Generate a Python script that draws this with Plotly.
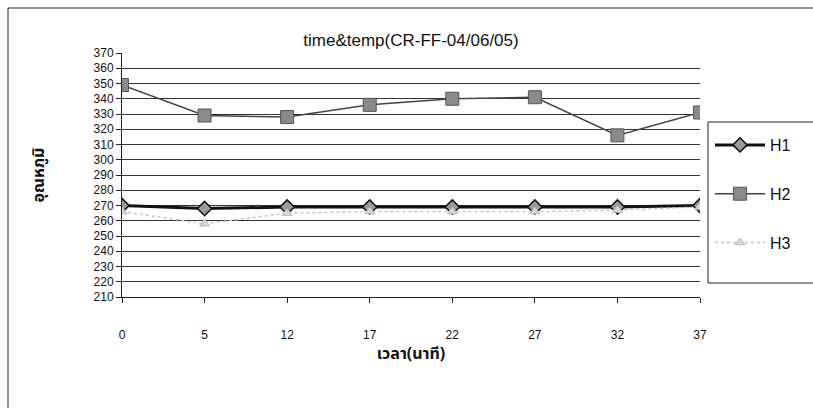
import plotly.graph_objects as go

categories = ["0", "5", "12", "17", "22", "27", "32", "37"]
h1 = [270, 268, 269, 269, 269, 269, 269, 270]
h2 = [349, 329, 328, 336, 340, 341, 316, 331]
h3 = [266, 258, 265, 266, 266, 266, 267, 269]
y_ticks = list(range(210, 371, 10))

W, H = 813, 408
L, R, T, B = 122, 700, 53, 297  # plot area in px

def px_x(p):
    return (p - L) / (R - L)

def px_y(p):
    return (B - p) / (B - T)

xs = list(range(len(categories)))
FONT = "Liberation Sans, Arial, sans-serif"
THAI = "Noto Sans Thai, Tahoma, Loma, Garuda, DejaVu Sans, sans-serif"

fig = go.Figure()
fig.add_trace(go.Scatter(
    x=xs, y=h1, name="H1", mode="lines+markers", legendgroup="a",
    line=dict(color="#111111", width=3),
    marker=dict(symbol="diamond", size=11, color="#9a9a9a",
                line=dict(color="#111111", width=1.5)),
))
fig.add_trace(go.Scatter(
    x=xs, y=h2, name="H2", mode="lines+markers", legendgroup="b",
    line=dict(color="#444444", width=1.5),
    marker=dict(symbol="square", size=13, color="#8a8a8a",
                line=dict(color="#555555", width=1)),
))
fig.add_trace(go.Scatter(
    x=xs, y=h3, name="H3", mode="lines+markers", legendgroup="c",
    line=dict(color="#c4c4c4", width=1.5, dash="dot"),
    marker=dict(symbol="triangle-up", size=9, color="#d6d6d6",
                line=dict(color="#bdbdbd", width=1)),
))

line_style = dict(color="#222222", width=1)
fig.update_layout(
    width=W, height=H,
    margin=dict(l=L, r=W - R, t=T, b=H - B, pad=0, autoexpand=False),
    paper_bgcolor="white", plot_bgcolor="white",
    font=dict(family=FONT, color="black", size=11),
    title=dict(text="time&temp(CR-FF-04/06/05)", x=px_x(411), xref="paper",
               xanchor="center", y=1 - 40 / H, yanchor="middle",
               font=dict(family=FONT, size=17, color="#111111")),
    xaxis=dict(range=[0, 7], tickmode="array", tickvals=xs, ticktext=categories,
               showgrid=False, zeroline=False, showline=True, linecolor="#222222",
               linewidth=1, ticks="outside", ticklen=5, tickcolor="#222222",
               ticklabelstandoff=22,
               tickfont=dict(size=12, family=FONT, color="#111111"),
               title=dict(text="<b>เวลา(นาที)</b>", standoff=2,
                          font=dict(size=16, family=THAI, color="#111111"))),
    yaxis=dict(range=[210, 370], tickmode="array", tickvals=y_ticks,
               showgrid=True, gridcolor="#333333", gridwidth=1, zeroline=False,
               showline=True, linecolor="#222222", linewidth=1,
               ticks="outside", ticklen=5, tickcolor="#222222",
               tickfont=dict(size=12, family=FONT, color="#111111"),
               title=dict(text="<b>อุณหภูมิ</b>", standoff=44,
                          font=dict(size=16, family=THAI, color="#111111"))),
    legend=dict(x=px_x(710), xanchor="left", y=px_y(128), yanchor="top",
                bgcolor="rgba(0,0,0,0)", borderwidth=0,
                font=dict(size=16, family=FONT, color="#111111"),
                tracegroupgap=25, traceorder="grouped", itemwidth=50),
    shapes=[
        # outer chart-area border (top and left edges visible)
        dict(type="line", xref="paper", yref="paper",
             x0=px_x(8), x1=px_x(813), y0=px_y(8), y1=px_y(8), line=line_style),
        dict(type="line", xref="paper", yref="paper",
             x0=px_x(8), x1=px_x(8), y0=px_y(8), y1=px_y(408), line=line_style),
        # legend frame
        dict(type="rect", xref="paper", yref="paper",
             x0=px_x(708), x1=px_x(840), y0=px_y(283), y1=px_y(122),
             line=line_style),
    ],
)

fig.write_html("out.html")
